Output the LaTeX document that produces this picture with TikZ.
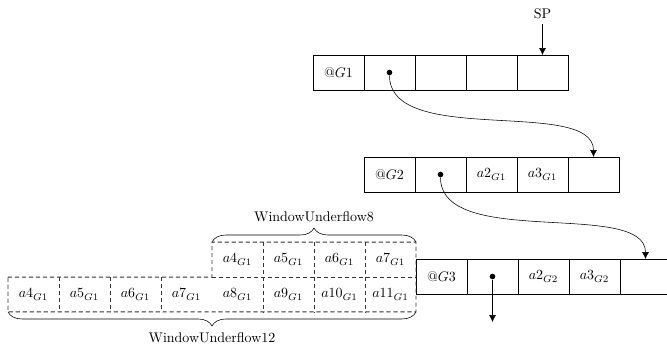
\documentclass[tikz,border=0pt]{standalone}
\usetikzlibrary{arrows.meta,decorations.pathreplacing}
\begin{document}
\begin{tikzpicture}[x=0.715pt,y=-0.715pt,
  cell/.style={draw,minimum width=36.47pt,minimum height=25pt,inner sep=0pt,outer sep=0pt},
  dcell/.style={minimum width=36.47pt,minimum height=25pt,inner sep=0pt,outer sep=0pt},
  dline/.style={dash pattern=on 3pt off 2pt,black!80,line width=0.7pt},
  arr/.style={-{Latex[length=5pt,width=5pt]}},
  dot/.style={circle,fill,inner sep=0pt,minimum size=4pt},
  brc/.style={decorate,decoration={brace,amplitude=10pt}}]
\useasboundingbox (0,0) rectangle (667,354);
% row 1
\node[cell] (a1) at (338.5,72.5) {@$G1$};
\node[cell] (a2) at (389.5,72.5) {};
\node[cell] (a3) at (440.5,72.5) {};
\node[cell] (a4) at (491.5,72.5) {};
\node[cell] (a5) at (542.5,72.5) {};
% row 2
\node[cell] (b1) at (389.5,174.5) {@$G2$};
\node[cell] (b2) at (440.5,174.5) {};
\node[cell] (b3) at (491.5,174.5) {$a2_{G1}$};
\node[cell] (b4) at (542.5,174.5) {$a3_{G1}$};
\node[cell] (b5) at (593.5,174.5) {};
% row 3
\node[cell] (c1) at (441.5,276.5) {@$G3$};
\node[cell] (c2) at (492.5,276.5) {};
\node[cell] (c3) at (543.5,276.5) {$a2_{G2}$};
\node[cell] (c4) at (594.5,276.5) {$a3_{G2}$};
\node[cell] (c5) at (645.5,276.5) {};
% dots
\node[dot] (d1) at (a2.center) {};
\node[dot] (d2) at (b2.center) {};
\node[dot] (d3) at (c2.center) {};
% SP
\node (sp) at (542.5,14) {SP};
\draw[arr] (sp.south) -- (a5.north);
% curves
\draw[arr] (d1) .. controls +(0,75) and +(0,-60) .. (b5.north);
\draw[arr] (d2) .. controls +(0,75) and +(0,-60) .. (c5.north);
\coordinate (down) at (492.5,322);
\draw[arr] (d3) -- (down);
% dashed upper row
\node[dcell] (u1) at (237.5,259.5) {$a4_{G1}$};
\node[dcell] (u2) at (288.5,259.5) {$a5_{G1}$};
\node[dcell] (u3) at (339.5,259.5) {$a6_{G1}$};
\node[dcell] (u4) at (390.5,259.5) {$a7_{G1}$};
% dashed lower row
\node[dcell] (l1) at (33.5,294.5) {$a4_{G1}$};
\node[dcell] (l2) at (84.5,294.5) {$a5_{G1}$};
\node[dcell] (l3) at (135.5,294.5) {$a6_{G1}$};
\node[dcell] (l4) at (186.5,294.5) {$a7_{G1}$};
\node[dcell] (l5) at (237.5,294.5) {$a8_{G1}$};
\node[dcell] (l6) at (288.5,294.5) {$a9_{G1}$};
\node[dcell] (l7) at (339.5,294.5) {$a10_{G1}$};
\node[dcell] (l8) at (390.5,294.5) {$a11_{G1}$};
\draw[dline] (l1.north west) -- (l4.north east) -- (u1.north west) -- (u4.north east)
  -- (l8.south east) -- (l1.south west) -- cycle;
\draw[dline] (l5.north west) -- (l8.north east);
\draw[dline] (l1.north east) -- (l1.south east);
\draw[dline] (l2.north east) -- (l2.south east);
\draw[dline] (l3.north east) -- (l3.south east);
\draw[dline] (u1.north east) -- (l5.south east);
\draw[dline] (u2.north east) -- (l6.south east);
\draw[dline] (u3.north east) -- (l7.south east);
% braces
\draw[brc] (u1.north west) -- (u4.north east) node[midway,above=11pt] (w8) {WindowUnderflow8};
\draw[brc] (l8.south east) -- (l1.south west) node[midway,below=11pt] (w12) {WindowUnderflow12};
\end{tikzpicture}
\end{document}
